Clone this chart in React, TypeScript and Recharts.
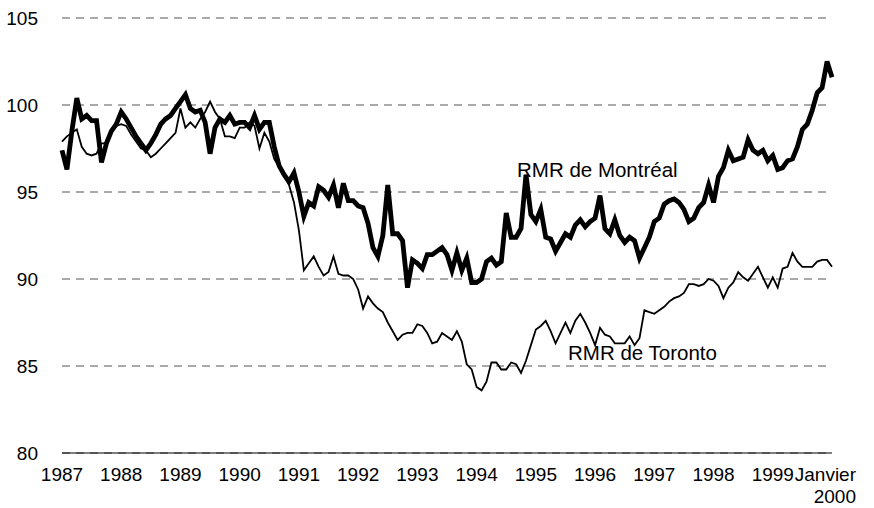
import { CartesianGrid, Customized, Line, LineChart, XAxis, YAxis } from "recharts";

// monthly index, Jan 1987 .. Jan 2000
const montreal = [
  97.4, 96.3, 98.5, 100.4, 99.2, 99.4, 99.1, 99.1, 96.7, 97.8, 98.5, 98.9,
  99.6, 99.2, 98.7, 98.2, 97.8, 97.4, 97.8, 98.3, 98.9, 99.2, 99.4, 99.8,
  100.2, 100.6, 99.8, 99.6, 99.7, 99.0, 97.2, 98.7, 99.2, 99.0, 99.4, 98.9,
  99.0, 99.0, 98.7, 99.4, 98.6, 99.0, 99.0, 97.6, 96.5, 96.0, 95.6, 96.1,
  95.0, 93.6, 94.4, 94.2, 95.3, 95.1, 94.7, 95.4, 94.1, 95.5, 94.5, 94.5,
  94.2, 94.1, 93.2, 91.8, 91.3, 92.5, 95.4, 92.6, 92.6, 92.2, 89.5, 91.1,
  90.9, 90.6, 91.4, 91.4, 91.6, 91.8, 91.4, 90.5, 91.5, 90.5, 91.2, 89.8,
  89.8, 90.0, 91.0, 91.2, 90.8, 91.0, 93.8, 92.4, 92.4, 92.9, 96.0, 93.7,
  93.3, 94.0, 92.4, 92.3, 91.6, 92.1, 92.6, 92.4, 93.1, 93.4, 93.0, 93.3,
  93.5, 94.8, 92.9, 92.6, 93.4, 92.5, 92.1, 92.4, 92.2, 91.2, 91.8, 92.4,
  93.3, 93.5, 94.3, 94.5, 94.6, 94.4, 94.0, 93.3, 93.5, 94.1, 94.4, 95.4,
  94.4, 95.9, 96.4, 97.4, 96.8, 96.9, 97.0, 98.0, 97.4, 97.2, 97.4, 96.8,
  97.1, 96.3, 96.4, 96.8, 96.9, 97.6, 98.6, 98.9, 99.7, 100.7, 101.0, 102.5,
  101.6,
];

const toronto = [
  97.9, 98.2, 98.4, 98.6, 97.6, 97.2, 97.1, 97.2, 97.8, 97.8, 98.4, 98.8,
  98.9, 98.8, 98.3, 97.9, 97.5, 97.4, 97.0, 97.2, 97.5, 97.8, 98.1, 98.4,
  99.8, 98.7, 99.0, 98.7, 99.2, 99.6, 100.2, 99.6, 99.2, 98.2, 98.2, 98.1,
  98.7, 98.7, 99.0, 98.8, 97.5, 98.4, 97.9, 96.9, 96.4, 95.9, 95.4, 94.4,
  92.8, 90.5, 90.9, 91.3, 90.7, 90.2, 90.4, 91.3, 90.3, 90.2, 90.2, 90.0,
  89.4, 88.3, 89.0, 88.6, 88.3, 88.1, 87.5, 87.0, 86.5, 86.8, 86.9, 86.9,
  87.4, 87.3, 86.9, 86.3, 86.4, 86.9, 86.7, 86.5, 87.0, 86.4, 85.1, 84.8,
  83.8, 83.6, 84.1, 85.2, 85.2, 84.8, 84.8, 85.2, 85.1, 84.6, 85.3, 86.2,
  87.1, 87.3, 87.6, 87.0, 86.3, 86.9, 87.5, 86.9, 87.6, 88.0, 87.5, 86.9,
  86.2, 87.2, 86.8, 86.7, 86.3, 86.3, 86.3, 86.7, 86.2, 86.6, 88.2, 88.1,
  88.0, 88.2, 88.4, 88.7, 88.9, 89.0, 89.2, 89.7, 89.7, 89.6, 89.7, 90.0,
  89.9, 89.6, 88.9, 89.5, 89.8, 90.4, 90.1, 89.9, 90.3, 90.7, 90.1, 89.5,
  90.1, 89.5, 90.6, 90.7, 91.5, 91.0, 90.7, 90.7, 90.7, 91.0, 91.1, 91.1,
  90.7,
];

const yearLabels = [
  "1987", "1988", "1989", "1990", "1991", "1992", "1993",
  "1994", "1995", "1996", "1997", "1998", "1999",
];
const lastLabel = ["Janvier", "2000"];
const yTicks = [80, 85, 90, 95, 100, 105];

const data = montreal.map((v, i) => ({ m: i, montreal: v, toronto: toronto[i] }));
const xTicks = [...yearLabels.map((_, i) => i * 12), yearLabels.length * 12];

const FONT = "'Liberation Sans', Arial, sans-serif";

function XTick({ x, y, payload }: any) {
  const idx = payload.value / 12;
  if (idx >= yearLabels.length) {
    return (
      <g>
        <text x={x + 24} y={y} dy={20} textAnchor="end" fontSize={19} fill="#000" fontFamily={FONT}>
          {lastLabel[0]}
        </text>
        <text x={x + 24} y={y} dy={42} textAnchor="end" fontSize={19} fill="#000" fontFamily={FONT}>
          {lastLabel[1]}
        </text>
      </g>
    );
  }
  return (
    <text x={x} y={y} dy={20} textAnchor="middle" fontSize={19} fill="#000" fontFamily={FONT}>
      {yearLabels[idx]}
    </text>
  );
}

function SeriesLabels() {
  return (
    <g fontFamily={FONT} fontSize={20.5} fill="#000">
      <text x={517} y={177}>RMR de Montréal</text>
      <text x={568} y={360}>RMR de Toronto</text>
    </g>
  );
}

export default function App() {
  return (
    <div style={{ position: "absolute", left: 0, top: 0, background: "#fff" }}>
      <LineChart
        width={874}
        height={508}
        data={data}
        margin={{ top: 18, right: 42, bottom: 0, left: 0 }}
      >
        <CartesianGrid
          vertical={false}
          stroke="#555"
          strokeDasharray="8 6"
        />
        <XAxis
          dataKey="m"
          type="number"
          domain={[0, 156]}
          ticks={xTicks}
          interval={0}
          height={55}
          tickLine={false}
          tickSize={0}
          tickMargin={8}
          axisLine={{ stroke: "#000", strokeWidth: 1 }}
          tick={<XTick />}
        />
        <YAxis
          domain={[80, 105]}
          ticks={yTicks}
          width={62}
          axisLine={false}
          tickLine={false}
          tickSize={0}
          tickMargin={24}
          tick={{ fontSize: 19, fill: "#000", fontFamily: FONT }}
        />
        <Line
          type="linear"
          dataKey="toronto"
          stroke="#000"
          strokeWidth={1.8}
          dot={false}
          isAnimationActive={false}
        />
        <Line
          type="linear"
          dataKey="montreal"
          stroke="#000"
          strokeWidth={4.8}
          dot={false}
          isAnimationActive={false}
        />
        <Customized component={SeriesLabels} />
      </LineChart>
    </div>
  );
}
